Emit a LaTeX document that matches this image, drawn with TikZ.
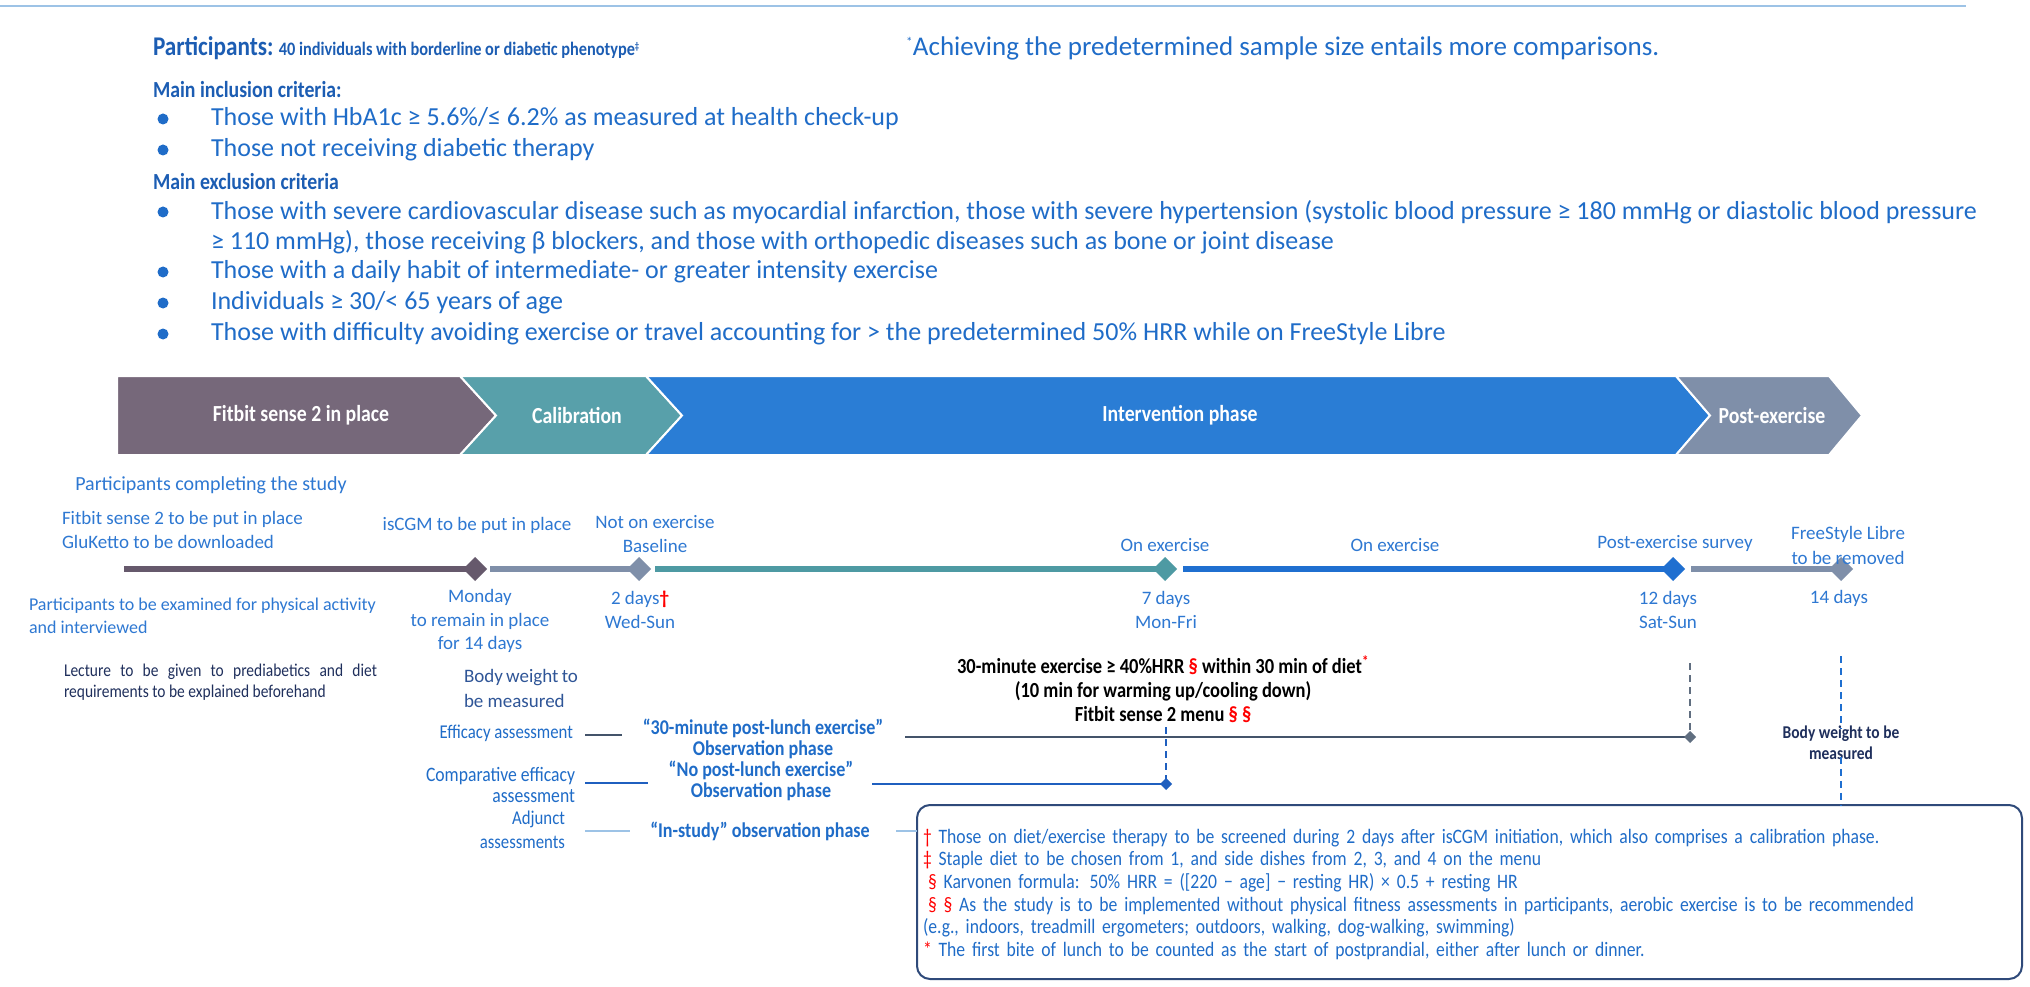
\documentclass[tikz,border=0pt]{standalone}
\usepackage{fontspec}
\setmainfont{Carlito}
\newfontfamily\condf[FakeStretch=0.86]{Carlito}
\usetikzlibrary{shapes.geometric}
\definecolor{tblue}{HTML}{1F6CC8}
\definecolor{hblue}{HTML}{1C5DB3}
\definecolor{lblue}{HTML}{2E78D2}
\definecolor{navy}{HTML}{1F2F5C}
\definecolor{dblue}{HTML}{2F5597}
\definecolor{cPurple}{HTML}{76687A}
\definecolor{cTeal}{HTML}{58A0AA}
\definecolor{cBlue}{HTML}{2A7DD5}
\definecolor{cGray}{HTML}{7F8FA9}
\definecolor{lPurple}{HTML}{66596C}
\definecolor{lTeal}{HTML}{4E9AA3}
\definecolor{lBlue}{HTML}{1F6FD0}
\definecolor{topline}{HTML}{9DC3E6}
\definecolor{redm}{HTML}{FF0000}
\definecolor{boxline}{HTML}{2F4A7A}
\definecolor{effline}{HTML}{44546A}
\definecolor{compline}{HTML}{1F5FBF}
\definecolor{instline}{HTML}{9DC3E6}
\newcommand{\fsz}[2]{\fontsize{#1}{#2}\selectfont}
\newcommand{\rd}[1]{\textcolor{redm}{#1}}
\begin{document}
\begin{tikzpicture}[x=1pt,y=-1pt,
  every node/.style={inner sep=0pt,outer sep=0pt},
  crit/.style={anchor=west,text=tblue,font=\fsz{26}{30}},
  head/.style={anchor=west,text=hblue,font=\condf\fsz{23}{26}\bfseries},
  bul/.style={circle,fill=tblue,minimum size=11pt},
  chev/.style={draw=white,line width=2pt},
  chevlab/.style={text=white,font=\condf\fsz{23}{26}\bfseries},
  tl/.style={line width=6pt},
  dia/.style={diamond,minimum size=24pt},
  sdia/.style={diamond,minimum size=12pt},
  lab/.style={text=lblue,font=\fsz{19}{23.5},align=center},
  blk/.style={text=black,font=\condf\fsz{21.5}{24}\bfseries,align=center},
  effl/.style={text=tblue,font=\condf\fsz{19.5}{22}},
  obs/.style={text=tblue,font=\condf\fsz{21}{21}\bfseries,align=center},
  vdash/.style={line width=2pt,dash pattern=on 7pt off 5pt}
]
\useasboundingbox (0,0) rectangle (2030,987);
\fill[white] (0,0) rectangle (2030,987);
% top rule
\draw[topline,line width=2.5pt] (0,6) -- (1966,6);

% header
\node[anchor=west,text=hblue] (part) at (153,48)
  {\condf\fsz{27}{30}\bfseries Participants:\ \fsz{19}{22}40 individuals with borderline or diabetic phenotype\textsuperscript{\fsz{10}{10}‡}};
\node[anchor=west,text=tblue,font=\fsz{27}{30}] (ach) at (906,48)
  {\textsuperscript{\fsz{13}{13}*}Achieving the predetermined sample size entails more comparisons.};

\node[head] (inc) at (153,90) {Main inclusion criteria:};
\node[bul] (b1) at (163,119) {};
\node[crit] (i1) at (211,119) {Those with HbA1c ≥ 5.6\%/≤ 6.2\% as measured at health check-up};
\node[bul] (b2) at (163,150) {};
\node[crit] (i2) at (211,150) {Those not receiving diabetic therapy};
\node[head] (exc) at (153,182) {Main exclusion criteria};
\node[bul] (b3) at (163,212) {};
\node[crit] (e1a) at (211,212) {Those with severe cardiovascular disease such as myocardial infarction, those with severe hypertension (systolic blood pressure ≥ 180 mmHg or diastolic blood pressure};
\node[crit] (e1b) at (211,242) {≥ 110 mmHg), those receiving β blockers, and those with orthopedic diseases such as bone or joint disease};
\node[bul] (b4) at (163,272) {};
\node[crit] (e2) at (211,272) {Those with a daily habit of intermediate- or greater intensity exercise};
\node[bul] (b5) at (163,303) {};
\node[crit] (e3) at (211,303) {Individuals ≥ 30/< 65 years of age};
\node[bul] (b6) at (163,334) {};
\node[crit] (e4) at (211,334) {Those with difficulty avoiding exercise or travel accounting for > the predetermined 50\% HRR while on FreeStyle Libre};

% phase banner
\path[chev,fill=cPurple] (117,376) -- (460,376) -- (496,415.5) -- (460,455) -- (117,455) -- cycle;
\path[chev,fill=cTeal] (460,376) -- (646,376) -- (682,415.5) -- (646,455) -- (460,455) -- (496,415.5) -- cycle;
\path[chev,fill=cBlue] (646,376) -- (1676,376) -- (1710,415.5) -- (1676,455) -- (646,455) -- (682,415.5) -- cycle;
\path[chev,fill=cGray] (1676,376) -- (1829,376) -- (1862,415.5) -- (1829,455) -- (1676,455) -- (1710,415.5) -- cycle;
\node[chevlab] (ph1) at (301,415.5) {Fitbit sense 2 in place};
\node[chevlab] (ph2) at (577,415.5) {Calibration};
\node[chevlab] (ph3) at (1180,415.5) {Intervention phase};
\node[chevlab] (ph4) at (1772,415.5) {Post-exercise};

% timeline
\coordinate (t0) at (124,569);
\coordinate (p1) at (475,569);
\coordinate (p2) at (639,569);
\coordinate (p3) at (1165,569);
\coordinate (p4) at (1673,569);
\coordinate (p5) at (1841,569);
\draw[tl,lPurple] (t0) -- (p1);
\draw[tl,cGray] ([xshift=15pt]p1) -- (p2);
\draw[tl,lTeal] ([xshift=16pt]p2) -- (p3);
\draw[tl,lBlue] ([xshift=18pt]p3) -- (p4);
\draw[tl,cGray] ([xshift=18pt]p4) -- (p5);
\node[dia,fill=lPurple] (d1) at (p1) {};
\node[dia,fill=cGray] (d2) at (p2) {};
\node[dia,fill=lTeal] (d3) at (p3) {};
\node[dia,fill=lBlue] (d4) at (p4) {};
\node[dia,fill=cGray] (d5) at (p5) {};

% labels above timeline
\node[lab,font=\fsz{20}{24}] (lcomp) at (211,485) {Participants completing the study};
\node[lab,align=left,anchor=west] (lfit) at (62,530) {Fitbit sense 2 to be put in place\\GluKetto to be downloaded};
\node[lab] (liscgm) at (477,525) {isCGM to be put in place};
\node[lab] (lnot) at (655,534) {Not on exercise\\Baseline};
\node[lab] (lon1) at (1165,545) {On exercise};
\node[lab] (lon2) at (1395,545) {On exercise};
\node[lab] (lpost) at (1675,543) {Post-exercise survey};
\node[lab,font=\fsz{19}{25}] (lfree) at (1848,545) {FreeStyle Libre\\to be removed};

% labels below timeline
\node[lab,font=\fsz{18}{23.5},align=left,anchor=west] (lexam) at (29,616) {Participants to be examined for physical activity\\and interviewed};
\node[lab] (lmon) at (480,621) {Monday\\to remain in place\\for 14 days};
\node[lab] (l2d) at (640,610) {2 days\rd{\textbf{†}}\\Wed-Sun};
\node[lab] (l7d) at (1166,610) {7 days\\Mon-Fri};
\node[lab] (l12d) at (1668,610) {12 days\\Sat-Sun};
\node[lab] (l14d) at (1839,598) {14 days};
\node[text=navy,font=\condf\fsz{18}{21},text width=313pt,align=justify,anchor=west] (llect) at (64,682)
  {Lecture to be given to prediabetics and diet\linebreak requirements to be explained beforehand};
\node[text=dblue,font=\fsz{19}{25},text width=114pt,align=justify,anchor=west] (lbw) at (464,688)
  {Body weight to\linebreak be measured};

% exercise prescription
\node[blk] (rx) at (1163,689) {30-minute exercise ≥ 40\%HRR \rd{§} within 30 min of diet\rd{\textsuperscript{*}}\\(10 min for warming up/cooling down)\\Fitbit sense 2 menu \rd{§ §}};

% assessment rows
\node[effl,anchor=east] (aeff) at (573,733) {Efficacy assessment};
\node[obs] (oeff) at (763,739) {“30-minute post-lunch exercise”\\Observation phase};
\node[effl,font=\condf\fsz{20.5}{21},align=right,anchor=east] (acomp) at (575,785) {Comparative efficacy\\assessment};
\node[obs] (ocomp) at (761,781) {“No post-lunch exercise”\\Observation phase};
\node[effl,font=\condf\fsz{19.5}{24},align=right,anchor=east] (aadj) at (565,830) {Adjunct\\assessments};
\node[obs] (oadj) at (760,831) {“In-study” observation phase};

\coordinate (e0) at (585,735);
\coordinate (e1) at (622,735);
\coordinate (e2) at (905,737);
\coordinate (e3) at (1690,737);
\draw[effline,line width=2pt] (e0) -- (e1);
\draw[effline,line width=2pt] (e2) -- (e3);
\coordinate (c0) at (585,783);
\coordinate (c1) at (648,783);
\coordinate (c2) at (872,784);
\coordinate (c3) at (1166,784);
\draw[compline,line width=2.5pt] (c0) -- (c1);
\draw[compline,line width=2.5pt] (c2) -- (c3);
\coordinate (n0) at (585,831);
\coordinate (n1) at (630,831);
\coordinate (n2) at (896,831);
\draw[instline,line width=2pt] (n0) -- (n1);

% vertical dashed connectors
\coordinate (v1top) at (1690,663);
\draw[vdash,effline!85] (v1top) -- (e3);
\coordinate (v2top) at (1166,727);
\draw[vdash,compline] (v2top) -- (c3);
\node[sdia,fill=effline!85] (sd1) at (e3) {};
\node[sdia,fill=compline] (sd2) at (c3) {};

% footnote box
\node[draw=boxline,line width=2pt,rounded corners=13pt,minimum width=1105pt,minimum height=174pt] (box) at (1469.5,892) {};
\node[anchor=north west,text width=1091pt,align=left,text=tblue,font=\condf\fsz{20.5}{22.6}] (notes) at (923,829)
  {\rd{†} Those on diet/exercise therapy to be screened during 2 days after isCGM initiation, which also comprises a calibration phase.\\
   \rd{‡} Staple diet to be chosen from 1, and side dishes from 2, 3, and 4 on the menu\\
   \hspace*{5pt}\rd{§} Karvonen formula: 50\% HRR = ([220 − age] − resting HR) × 0.5 + resting HR\\
   \hspace*{5pt}\rd{§ §} As the study is to be implemented without physical fitness assessments in participants, aerobic exercise is to be recommended\\
   (e.g., indoors, treadmill ergometers; outdoors, walking, dog-walking, swimming)\\
   \rd{*} The first bite of lunch to be counted as the start of postprandial, either after lunch or dinner.};
\draw[instline,line width=2pt] (n2) -- (box.west |- n2);

% body weight at removal
\node[text=navy,font=\condf\fsz{18}{21}\bfseries,align=center] (bw2) at (1841,743) {Body weight to be\\measured};
\coordinate (v3top) at (1841,656);
\draw[vdash,lBlue] (v3top) -- ([yshift=-3pt]bw2.north);
\draw[vdash,lBlue] ([yshift=3pt]bw2.south) -- (box.north -| bw2);
\end{tikzpicture}
\end{document}
